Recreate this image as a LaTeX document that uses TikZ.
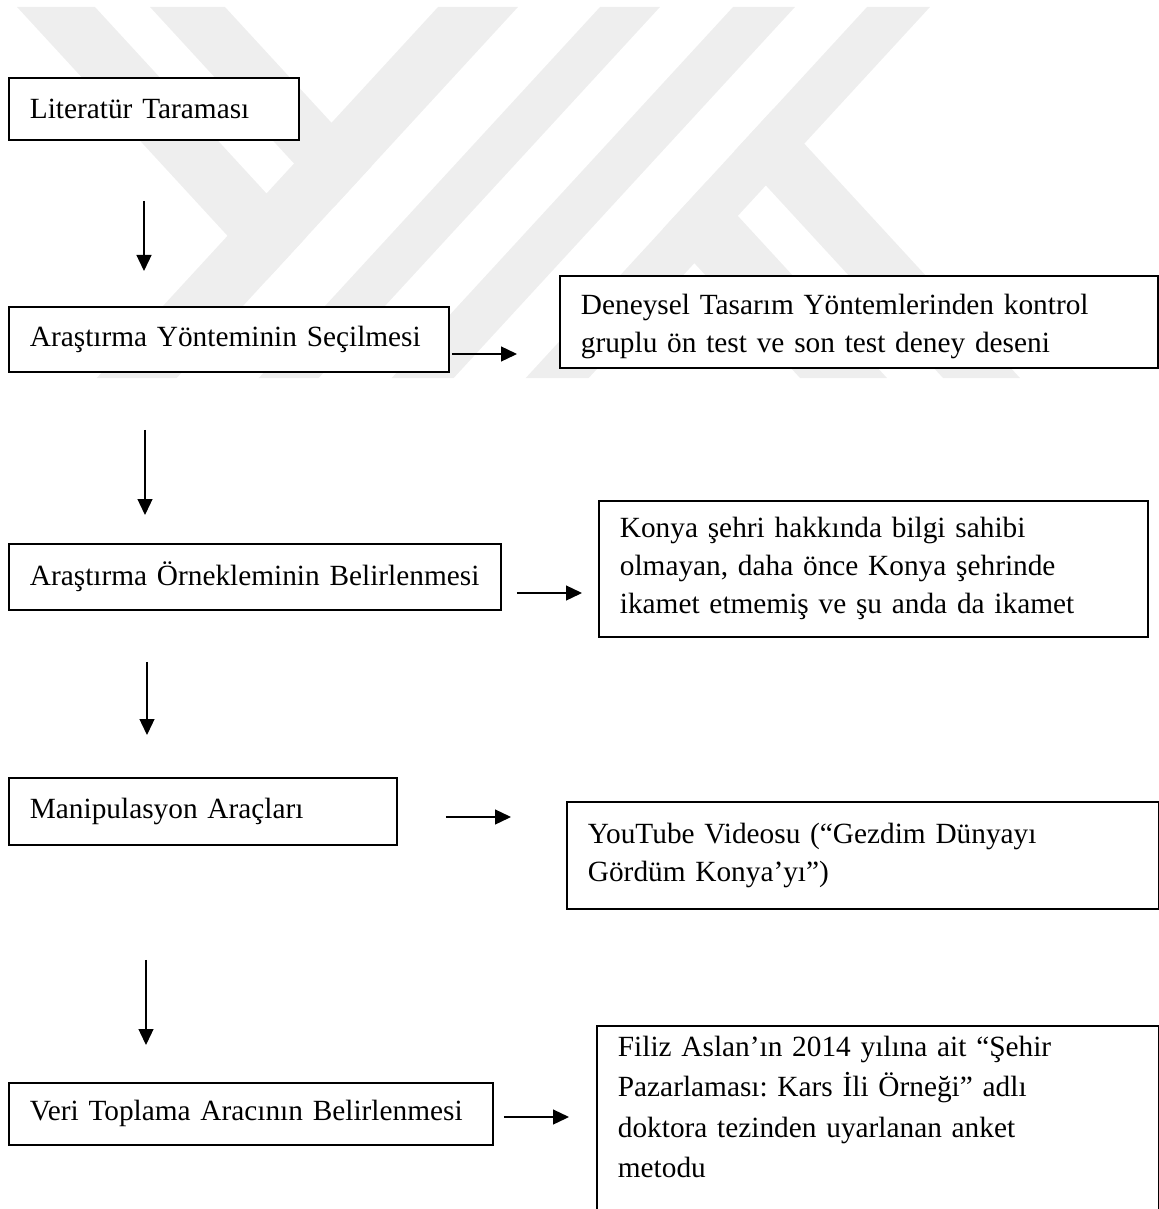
\documentclass[tikz,border=0pt]{standalone}
\usepackage{fontspec}
\setmainfont{Liberation Serif}
\usepackage{xcolor}
\usetikzlibrary{arrows.meta}
\definecolor{wmgray}{HTML}{EEEEEE}
\frenchspacing

\begin{document}
\begin{tikzpicture}[x=0.5pt, y=-0.5pt, font=\fontsize{14.66pt}{19pt}\selectfont, box/.style={draw, line width=0.9pt, fill=white, align=left, anchor=north west, inner xsep=10.5pt, inner ysep=4pt}, arr/.style={-{Triangle[length=8pt, width=7.5pt]}, line width=0.65pt}, wm/.style={fill=wmgray}]
\useasboundingbox (0,0) rectangle (1159,1209);
\clip (0,0) rectangle (1159,1209);
% watermark
\fill[wm] (17,7) -- (95,7) -- (306.5,236.9) -- (267.5,279.3) -- cycle;
\fill[wm] (150,7) -- (225,7) -- (371.5,166.2) -- (334,207) -- cycle;
\fill[wm] (438,7) -- (518,7) -- (176.7,378) -- (96.7,378) -- cycle;
\fill[wm] (600,7) -- (660,7) -- (318.7,378) -- (258.7,378) -- cycle;
\fill[wm] (733,7) -- (795,7) -- (453.7,378) -- (391.7,378) -- cycle;
\fill[wm] (867,7) -- (930,7) -- (588.7,378) -- (525.7,378) -- cycle;
\fill[wm] (772.8,109.4) -- (1020,378) -- (943,378) -- (734.3,151.2) -- cycle;
\fill[wm] (706.4,181.7) -- (887,378) -- (800,378) -- (662.8,228.9) -- cycle;
% boxes
\node[box, text width=124pt, minimum height=31pt] (lit) at (8,77) {Literatür Taraması};
\node[box, text width=199pt, minimum height=32.5pt] (yon) at (8,306) {Araştırma Yönteminin Seçilmesi};
\node[box, text width=278pt, minimum height=46pt, text height=15pt] (den) at (559,275) {Deneysel Tasarım Yöntemlerinden kontrol\\gruplu ön test ve son test deney deseni};
\node[box, text width=225pt, minimum height=33pt] (orn) at (8,543) {Araştırma Örnekleminin Belirlenmesi};
\node[box, text width=253.5pt, minimum height=68pt] (kon) at (598,500) {Konya şehri hakkında bilgi sahibi\\olmayan, daha önce Konya şehrinde\\ikamet etmemiş ve şu anda da ikamet};
\node[box, text width=173pt, minimum height=33.5pt] (man) at (8,777) {Manipulasyon Araçları};
\node[box, text width=275pt, minimum height=53.5pt] (you) at (566,801) {YouTube Videosu (“Gezdim Dünyayı\\Gördüm Konya’yı”)};
\node[box, text width=221pt, minimum height=31pt] (ver) at (8,1082) {Veri Toplama Aracının Belirlenmesi};
\node[box, text width=260pt, text depth=90pt, inner ysep=5pt, font=\fontsize{14.66pt}{20.25pt}\selectfont] (fil) at (596,1025) {Filiz Aslan’ın 2014 yılına ait “Şehir\\Pazarlaması: Kars İli Örneği” adlı\\doktora tezinden uyarlanan anket\\metodu};
% arrow levels
\coordinate (c1) at (144,0);
\coordinate (c2) at (145,0);
\coordinate (c3) at (147,0);
\coordinate (c4) at (146,0);
\coordinate (r1) at (0,354);
\coordinate (r2) at (0,593);
\coordinate (r3) at (0,817);
\coordinate (r4) at (0,1117);
% arrows
\draw[arr, shorten <=30pt, shorten >=17.5pt] (lit.south -| c1) -- (yon.north -| c1);
\draw[arr, shorten <=28.5pt, shorten >=14pt] (yon.south -| c2) -- (orn.north -| c2);
\draw[arr, shorten <=25.5pt, shorten >=21pt] (orn.south -| c3) -- (man.north -| c3);
\draw[arr, shorten <=57pt, shorten >=18.5pt] (man.south -| c4) -- (ver.north -| c4);
\draw[arr, shorten <=1pt, shorten >=21pt] (yon.east |- r1) -- (den.west |- r1);
\draw[arr, shorten <=7.5pt, shorten >=8pt] (orn.east |- r2) -- (kon.west |- r2);
\draw[arr, shorten <=24pt, shorten >=27.5pt] (man.east |- r3) -- (you.west |- r3);
\draw[arr, shorten <=5pt, shorten >=13.5pt] (ver.east |- r4) -- (fil.west |- r4);
\end{tikzpicture}
\end{document}
